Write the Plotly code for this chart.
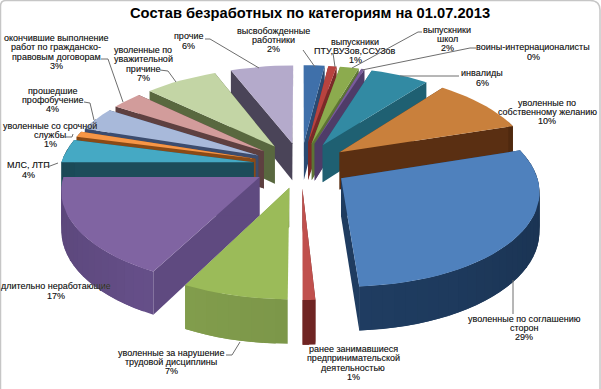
import math
import plotly.graph_objects as go

categories = [
    "высвобожденные<br>работники", "выпускники<br>ПТУ,ВУЗов,ССУЗов", "выпускники<br>школ",
    "воины-интернационалисты", "инвалиды", "уволенные по<br>собственному желанию",
    "уволенные по соглашению<br>сторон", "ранее занимавшиеся<br>предпринимательской<br>деятельностью",
    "уволенные за нарушение<br>трудовой дисциплины", "длительно неработающие", "МЛС, ЛТП",
    "уволенные со срочной<br>службы", "прошедшие<br>профобучение",
    "окончившие выполнение<br>работ по гражданско-<br>правовым договорам",
    "уволенные по<br>уважительной<br>причине", "прочие",
]
values = [2, 0.8, 1.8, 0.3, 5.6, 9.6, 29, 0.9, 7.6, 17.4, 4, 1, 4, 3, 7, 6]
percent_labels = [2, 1, 2, 0, 6, 10, 29, 1, 7, 17, 4, 1, 4, 3, 7, 6]
top_colors = ["#3f70aa", "#b8433f", "#8cab4e", "#7a5c9c", "#328aa3", "#c9803c", "#4f81bd", "#c0504d",
              "#9bbb59", "#8064a2", "#45a9c4", "#f79646", "#a8b9da", "#d29c9b", "#c3d5a5", "#b4aacb"]
wall_colors = ["#2a4a72", "#7a2a28", "#5d7434", "#4f3c68", "#1f6072", "#5a2f12", "#1f3c60", "#6e2523",
               "#7a9448", "#5f4a80", "#1c4c5a", "#8a4a16", "#3c4c6e", "#5e4040", "#59683f", "#4a4458"]
label_pos = [(273, 40), (355, 51), (447, 39), (533, 52), (482, 78), (547, 112), (524, 328), (353, 363),
             (171, 362), (56, 291), (28, 170), (50, 135), (52, 100), (56, 52), (143, 64), (188, 41)]
leaders = [[(303, 50), (315, 67)], [(333, 53), (335, 67)], [(422, 32), (418, 32), (352, 68)],
           [(476, 48), (470, 48), (362, 70)], [(459, 76), (400, 76)], [], [(513, 280), (513, 314)], [],
           [(226, 355), (232, 355), (240, 342)], [], [(44, 167), (50, 166), (58, 163)],
           [(66, 137), (72, 137), (73, 134)], [(84, 102), (90, 103), (94, 120)],
           [(101, 59), (108, 59), (123, 102)], [(160, 70), (168, 71), (176, 82)],
           [(205, 39), (210, 39), (259, 68)]]
title = "Состав безработных по категориям на 01.07.2013"

CX, CY, RX, RY, K, H, PULL = 301, 165, 193, 92, 0.12, 38, 0.248
LINE_STEP = 9.4


def project(u, v, z=0.0):
    s = 1 / (1 - K * v)
    return CX + RX * u * s, CY + RY * v * s + z * H * s


def shade(hexcol, f):
    r, g, b = (int(hexcol[i:i + 2], 16) for i in (1, 3, 5))
    return "#%02x%02x%02x" % tuple(min(255, int(c * f)) for c in (r, g, b))


def poly(pts, color):
    xs = [p[0] for p in pts] + [pts[0][0]]
    ys = [p[1] for p in pts] + [pts[0][1]]
    return go.Scatter(x=xs, y=ys, mode="lines", fill="toself", fillcolor=color,
                      line=dict(color=color, width=0), hoverinfo="skip", showlegend=False)


total = sum(values)
slices = []
cum = 0
for i, val in enumerate(values):
    a0 = 2 * math.pi * cum / total
    a1 = 2 * math.pi * (cum + val) / total
    cum += val
    mid = (a0 + a1) / 2
    slices.append((i, a0, a1, math.sin(mid) * PULL, math.cos(mid) * -PULL, -math.cos(mid)))

fig = go.Figure()
for i, a0, a1, du, dv, depth in sorted(slices, key=lambda s: s[5]):
    n = max(2, int((a1 - a0) / math.radians(3)))
    angs = [a0 + (a1 - a0) * k / n for k in range(n + 1)]
    rim = [(du + math.sin(a), dv - math.cos(a)) for a in angs]
    apex = (du, dv)
    wall = wall_colors[i]
    for end in (rim[0], rim[-1]):
        fig.add_trace(poly([project(*apex), project(*end), project(*end, 1), project(*apex, 1)], wall))
    for k in range(n):
        p = rim[k]
        q = rim[min(k + 2, n)]  # overlap the next strip so no seams show
        if -math.cos(angs[k]) < -0.35 and -math.cos(angs[k + 1]) < -0.35:
            continue
        t = (math.sin((angs[k] + angs[k + 1]) / 2) + 1) / 2
        col = shade(wall, 1.12 - 0.3 * abs(t - 0.25) - 0.1 * abs(t - 0.75))
        fig.add_trace(poly([project(*p), project(*q), project(*q, 1), project(*p, 1)], col))
    fig.add_trace(poly([project(*apex)] + [project(*p) for p in rim], top_colors[i]))

annotations = [dict(x=310, y=13, xref="x", yref="y", text="<b>%s</b>" % title, showarrow=False,
                    font=dict(family="Liberation Sans", size=14.7, color="#000000"))]
for name, pct, (lx, ly) in zip(categories, percent_labels, label_pos):
    lines = name.split("<br>") + ["%d%%" % pct]
    for j, line in enumerate(lines):
        annotations.append(dict(x=lx, y=ly + (j - (len(lines) - 1) / 2) * LINE_STEP, xref="x", yref="y",
                                showarrow=False, text=line,
                                font=dict(family="Liberation Sans", size=9, color="#1c1c1c",
                                          shadow="0 0 0.6px #999999")))

shapes = []
for seg in leaders:
    if seg:
        path = "M" + " L".join("%d,%d" % p for p in seg)
        shapes.append(dict(type="path", xref="x", yref="y", path=path, layer="above",
                           line=dict(color="#6e6e6e", width=1)))
shapes.append(dict(type="path", xref="x", yref="y", layer="below",
                   path="M0.5,389 L0.5,6 Q0.5,0.5 6,0.5 L590,0.5 Q600,0.5 600,10 L600,389",
                   line=dict(color="#c6c6c6", width=1.5)))

fig.update_layout(
    width=601, height=389, margin=dict(l=0, r=0, t=0, b=0),
    paper_bgcolor="#ffffff", plot_bgcolor="#ffffff",
    xaxis=dict(range=[0, 601], visible=False, fixedrange=True),
    yaxis=dict(range=[389, 0], visible=False, fixedrange=True),
    annotations=annotations, shapes=shapes, showlegend=False,
)
fig.write_html("out.html", config=dict(displayModeBar=False),
               post_script="document.body.style.margin='0';document.documentElement.style.overflow='hidden';")
